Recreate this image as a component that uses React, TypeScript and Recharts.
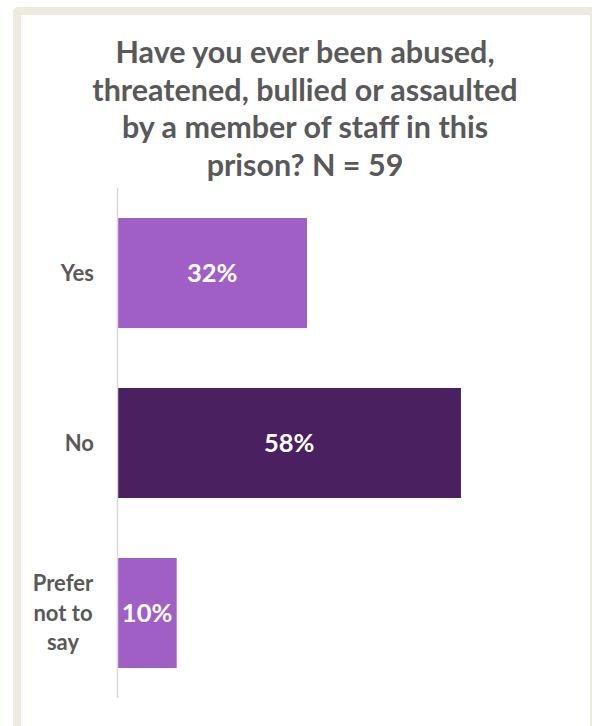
import React from "react";
import { BarChart, Bar, XAxis, YAxis, Cell, LabelList } from "recharts";

const categories = ["Yes", "No", "Prefer not to say"];
const percentages = [32, 58, 10];
const titleLines = [
  "Have you ever been abused,",
  "threatened, bullied or assaulted",
  "by a member of staff in this",
  "prison? N = 59",
];

const barColors = ["#A05FC4", "#4A2060", "#A05FC4"];
const textGrey = "#595959";
const font = "Lato, 'Open Sans', sans-serif";

const data = categories.map((name, i) => ({ name, value: percentages[i] }));

// wrap long category names the way the original does (max ~6 chars a line)
function wrapLabel(text: string, max = 6) {
  const words = text.split(" ");
  const lines: string[] = [];
  let cur = "";
  words.forEach((w) => {
    const next = cur ? cur + " " + w : w;
    if (next.length > max && cur) {
      lines.push(cur);
      cur = w;
    } else {
      cur = next;
    }
  });
  if (cur) lines.push(cur);
  return lines;
}

function CategoryTick(props: any) {
  const { x, y, payload } = props;
  const lines = wrapLabel(payload.value);
  if (lines.length === 1) {
    return (
      <text x={x - 23.5} y={y} dy="0.35em" textAnchor="end" fill={textGrey}
        fontSize={22} fontWeight="bold" fontFamily={font}>
        {lines[0]}
      </text>
    );
  }
  return (
    <text textAnchor="middle" fill={textGrey} fontSize={22} fontWeight="bold" fontFamily={font}>
      {lines.map((l, i) => (
        <tspan key={i} x={x - 54.5} y={y + (i - (lines.length - 1) / 2) * 29.5} dy="0.35em">
          {l}
        </tspan>
      ))}
    </text>
  );
}

export default function App() {
  return (
    <div style={{ position: "absolute", left: 0, top: 0, width: 592, height: 726, overflow: "hidden", background: "#fff" }}>
      <div
        style={{
          position: "absolute",
          left: 13,
          top: 7,
          width: 579,
          height: 800,
          boxSizing: "border-box",
          borderTop: "8px solid #EDEAE0",
          borderLeft: "8px solid #EDEAE0",
          borderRight: "2px solid #EDEAE0",
          borderTopLeftRadius: 6,
        }}
      />
      <div
        style={{
          position: "absolute",
          left: 85,
          top: 33,
          width: 440,
          textAlign: "center",
          fontFamily: font,
          fontWeight: "bold",
          fontSize: 30.5,
          lineHeight: "37.5px",
          color: textGrey,
          whiteSpace: "nowrap",
        }}
      >
        {titleLines.map((l, i) => (
          <div key={i}>{l}</div>
        ))}
      </div>
      <div style={{ position: "absolute", left: 0, top: 0 }}>
        <BarChart
          width={592}
          height={726}
          data={data}
          layout="vertical"
          barSize={110}
          margin={{ top: 188, right: 60, bottom: 28, left: 0 }}
        >
          <XAxis type="number" domain={[0, 70]} hide />
          <YAxis
            type="category"
            dataKey="name"
            width={117.5}
            axisLine={{ stroke: "#D9D9D9", strokeWidth: 1.5 }}
            tickLine={false}
            tickSize={0}
            tickMargin={0}
            tick={<CategoryTick />}
            interval={0}
          />
          <Bar dataKey="value" isAnimationActive={false}>
            {data.map((d, i) => (
              <Cell key={d.name} fill={barColors[i]} />
            ))}
            <LabelList
              dataKey="value"
              position="center"
              formatter={(v: any) => `${v}%`}
              fill="#FFFFFF"
              fontSize={25.5}
              fontWeight="bold"
              fontFamily={font}
            />
          </Bar>
        </BarChart>
      </div>
    </div>
  );
}
